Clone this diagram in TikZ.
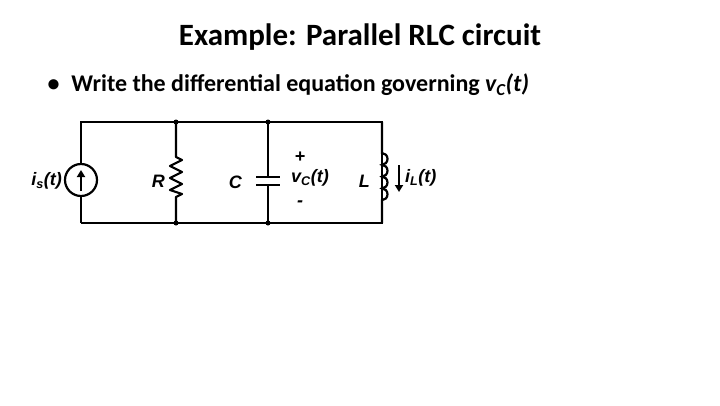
\documentclass[tikz,border=0pt]{standalone}
\usepackage{fontspec}
\setmainfont{Carlito}
\newfontfamily\arialf{Liberation Sans}
\usetikzlibrary{arrows.meta}
\begin{document}
\begin{tikzpicture}[x=1pt,y=-1pt,
  wire/.style={line width=2.2pt},
  lab/.style={font=\arialf\bfseries\itshape\fontsize{18}{18}\selectfont, inner sep=1pt},
  dot/.style={circle,fill,inner sep=0pt,minimum size=5pt}]
\useasboundingbox (0,0) rectangle (720,405);
\node[font=\bfseries\fontsize{31}{34}\selectfont] (title) at (360,37) {Example: Parallel RLC circuit};
\node[font=\bfseries\fontsize{24}{28}\selectfont, anchor=west] (bul) at (44,85) {\textbullet\hspace{0.5em}Write the differential equation governing \textit{v\textsubscript{C}(t)}};
% nodes
\coordinate (tl) at (81,122); \coordinate (bl) at (81,223);
\node[dot] (rt) at (176,122) {}; \node[dot] (rb) at (176,223) {};
\node[dot] (ct) at (268,122) {}; \node[dot] (cb) at (268,223) {};
\coordinate (tr) at (382,122); \coordinate (br) at (382,223);
\draw[wire] (bl) -- (tl) -- (rt.center) -- (ct.center) -- (tr) -- (br) -- (cb.center) -- (rb.center) -- (bl);
% source
\node[draw,circle,line width=2.2pt,minimum size=32pt,fill=white] (src) at (81,180) {};
\draw[line width=2.2pt,-{Triangle[length=7pt,width=8pt]}] (81,191) -- (81,170);
\node[lab,anchor=east] (isl) at (63,181) {i\textsubscript{s}(t)};
% resistor
\draw[wire,line join=round] (rt.center) -- (176,157) -- (182,160) -- (170,166) -- (182,172) -- (170,178) -- (182,184) -- (170,190) -- (182,194) -- (176,197) -- (rb.center);
\node[lab,anchor=east] (rl) at (166,181) {R};
% capacitor
\draw[wire] (ct.center) -- (268,177); \draw[wire] (268,185) -- (cb.center);
\draw[wire] (256,177) -- (280,177); \draw[wire] (256,185) -- (280,185);
\node[lab,anchor=east] (cl) at (243,182) {C};
\node[lab] (plus) at (300,157) {+};
\node[lab,anchor=west] (vcl) at (290,178) {v\textsubscript{C}(t)};
\node[lab] (minus) at (300,204) {-};
% inductor
\draw[wire] (tr) -- (382,153) arc (-90:90:5.5 and 5.9) arc (-90:90:5.5 and 5.9) arc (-90:90:5.5 and 5.9) arc (-90:90:5.5 and 5.9) -- (br);
\node[lab,anchor=east] (ll) at (371,181) {L};
\draw[line width=2.2pt,-{Triangle[length=7pt,width=8pt]}] (399,165) -- (399,192);
\node[lab,anchor=west] (ill) at (404,178) {i\textsubscript{L}(t)};
\end{tikzpicture}
\end{document}
